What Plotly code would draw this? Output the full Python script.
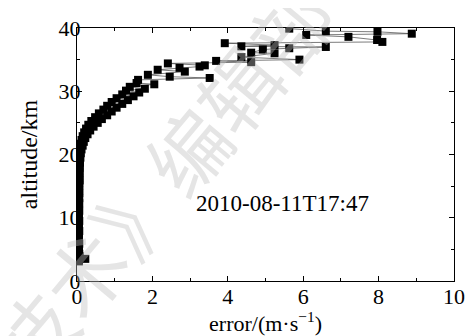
import plotly.graph_objects as go

altitude = [
    39.9, 39.5, 39.4, 39.1, 38.9, 38.6, 38.1, 37.8, 37.6, 37.3, 37.1, 37.0, 36.8,
    36.6, 36.1, 36.0, 35.4, 35.0, 34.8, 34.6, 34.4, 34.1, 33.9, 33.7, 33.4, 33.1,
    32.6, 32.3, 32.1, 31.8, 31.3, 31.1,
    30.7, 30.4, 30.1, 29.8, 29.5, 29.2, 28.9, 28.6, 28.3, 28.0, 27.7, 27.4, 27.1,
    26.8, 26.5, 26.2, 25.9, 25.6, 25.3, 25.0, 24.7, 24.4, 24.1, 23.8, 23.5, 23.2,
    22.9, 22.6, 22.3, 22.0, 21.7, 21.4, 21.1, 20.8, 20.5, 20.2, 19.9,
    19.5, 19.1, 18.7, 18.3, 17.9, 17.5, 17.1, 16.7, 16.3, 15.9, 15.5, 15.1, 14.7,
    14.3, 13.9, 13.5, 13.1, 12.7, 12.3, 11.9, 11.5, 11.1, 10.7, 10.3, 9.9, 9.5,
    9.1, 8.7, 8.3, 7.9, 7.5, 7.1, 6.7, 6.3, 5.9, 5.5, 5.1, 4.7, 4.3, 3.9, 3.5, 3.1,
]
error = [
    5.63, 6.60, 7.97, 8.88, 6.08, 7.20, 7.96, 8.10, 3.92, 5.24, 4.36, 6.60, 5.63,
    4.93, 4.62, 5.24, 4.36, 5.90, 3.69, 4.62, 2.41, 3.39, 3.25, 2.72, 2.14, 2.86,
    1.88, 2.46, 3.52, 1.62, 1.58, 2.05,
    1.40, 1.80, 1.30, 1.65, 1.20, 1.50, 1.05, 1.35, 0.92, 1.20, 0.80, 1.05, 0.70,
    0.92, 0.58, 0.80, 0.48, 0.66, 0.38, 0.55, 0.30, 0.44, 0.24, 0.35, 0.19, 0.28,
    0.15, 0.22, 0.12, 0.18, 0.10, 0.15, 0.09, 0.12, 0.08, 0.10, 0.08,
    0.09, 0.07, 0.08, 0.07, 0.07, 0.06, 0.07, 0.06, 0.06, 0.07, 0.06, 0.06, 0.05,
    0.06, 0.06, 0.05, 0.06, 0.05, 0.06, 0.05, 0.05, 0.06, 0.05, 0.05, 0.05, 0.06,
    0.05, 0.05, 0.05, 0.06, 0.05, 0.05, 0.05, 0.05, 0.06, 0.05, 0.05, 0.05, 0.06,
    0.07, 0.22, 0.05,
]

label_text = "2010-08-11T17:47"
watermark = "技术》编辑部"

FONT = "Liberation Serif"

fig = go.Figure()
fig.add_trace(go.Scatter(
    x=error, y=altitude, mode="lines+markers",
    line=dict(color="#444444", width=0.7),
    marker=dict(symbol="square", size=8, color="black"),
    showlegend=False,
))

fig.add_annotation(
    x=0.22, y=0.40, xref="paper", yref="paper", text=watermark,
    xanchor="center", yanchor="middle",
    showarrow=False, textangle=-50,
    font=dict(family="Noto Sans CJK SC", size=80, color="rgba(190,190,190,0.4)"),
)
fig.add_annotation(
    x=5.45, y=12.2, text=label_text, showarrow=False,
    font=dict(family=FONT, size=23, color="black"),
)

axis_common = dict(
    showline=True, linecolor="black", linewidth=1, mirror="ticks",
    ticks="inside", ticklen=5, tickcolor="black", tickwidth=1,
    showgrid=False, zeroline=False, ticklabeloverflow="allow",
    tickfont=dict(family=FONT, size=22, color="black"),
    title_font=dict(family=FONT, size=22, color="black"),
)

fig.update_xaxes(
    range=[0, 10], dtick=2, title_text="error/(m·s<sup>−1</sup>)", title_standoff=0,
    ticklabelstandoff=-4,
    minor=dict(dtick=1, ticks="inside", ticklen=3, tickcolor="black"),
    **axis_common,
)
fig.update_yaxes(
    range=[0, 40], dtick=10, title_text="altitude/km", title_standoff=14,
    ticklabelstandoff=-9,
    minor=dict(dtick=5, ticks="inside", ticklen=3, tickcolor="black"),
    **axis_common,
)
fig.update_yaxes(title_font_size=24)

fig.update_layout(
    width=465, height=328,
    margin=dict(l=69, r=18, t=8, b=55),
    plot_bgcolor="white", paper_bgcolor="white",
)

fig.write_html("out.html")
